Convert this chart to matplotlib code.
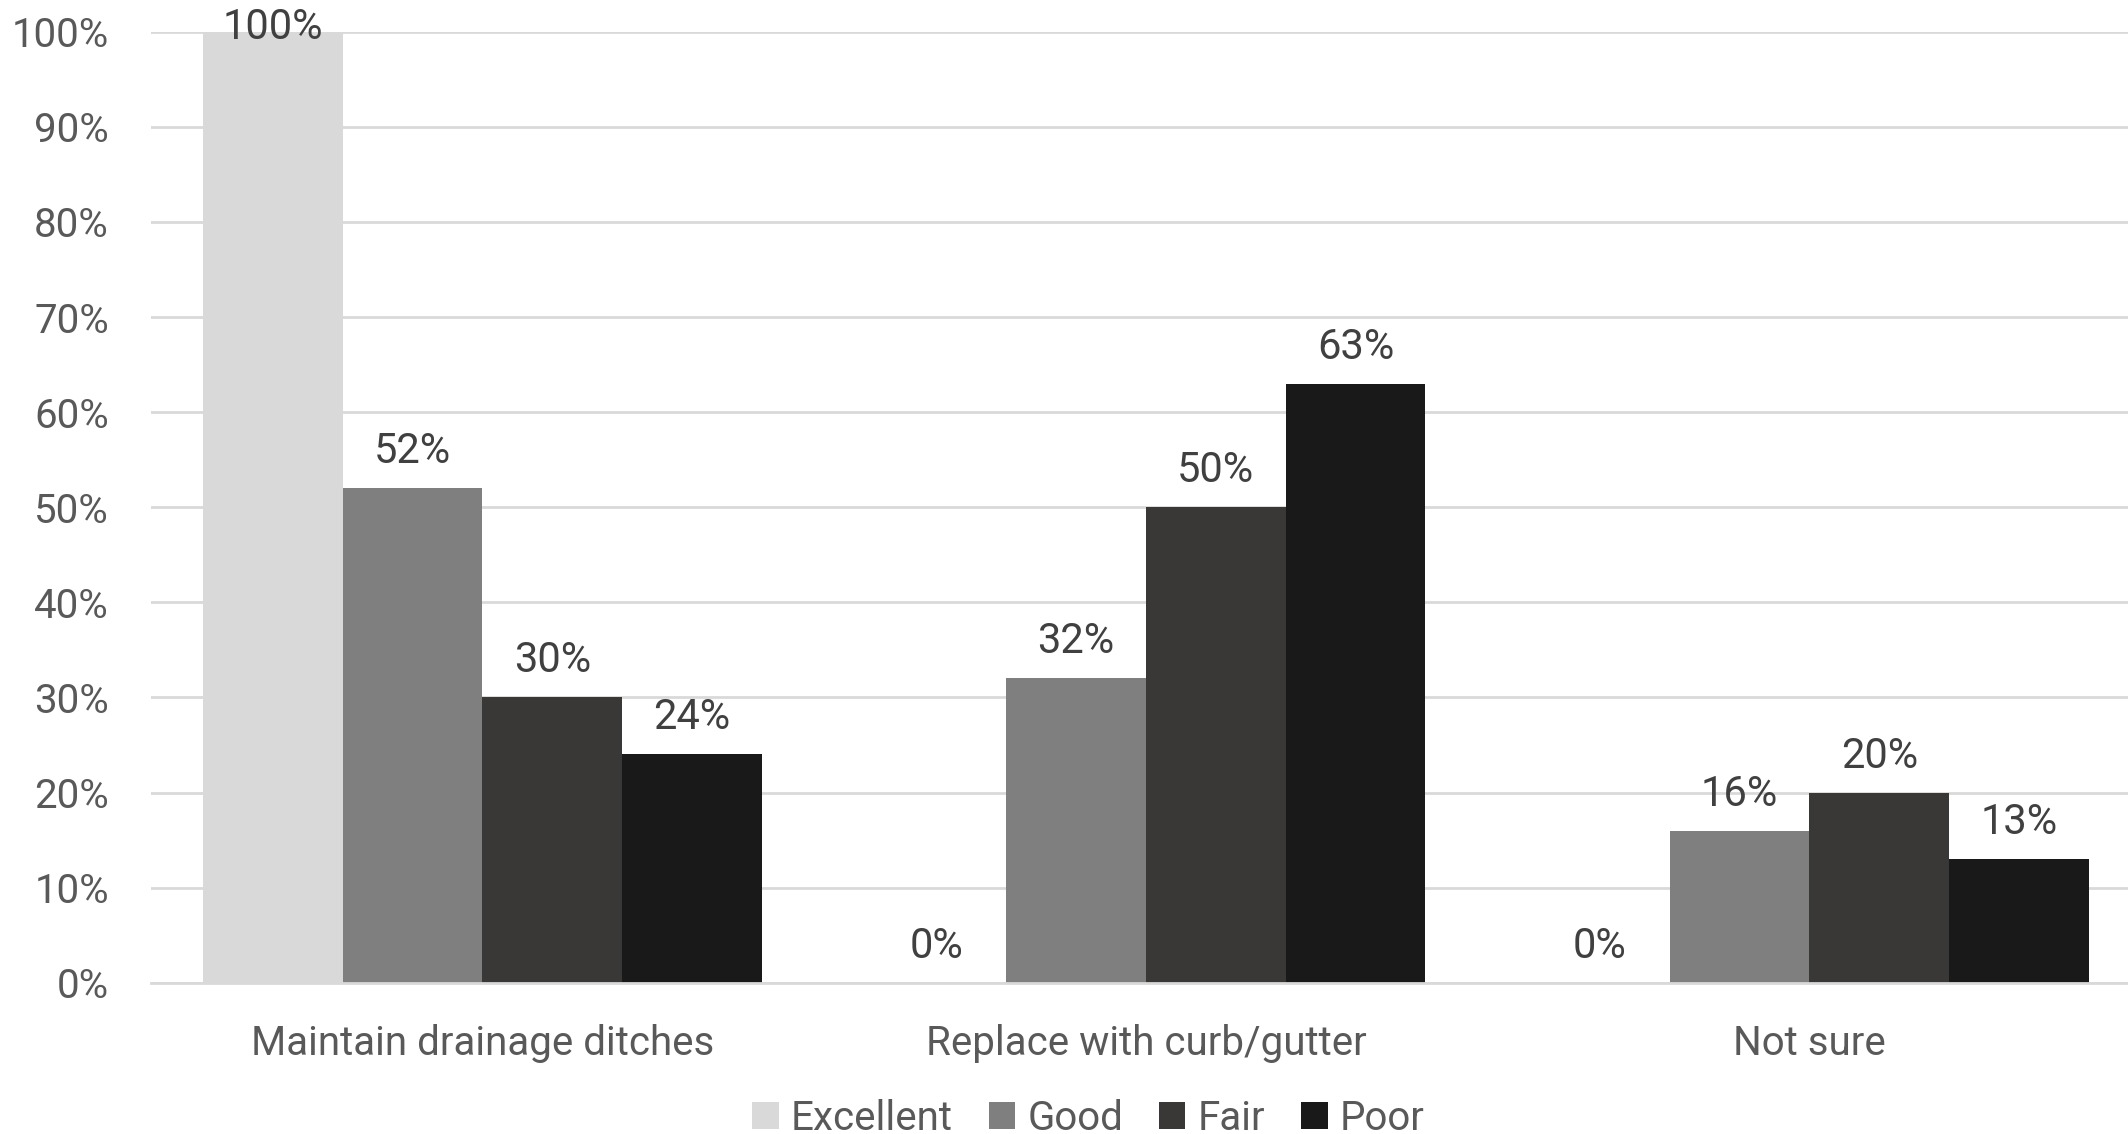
import matplotlib
matplotlib.use("Agg")
import matplotlib.pyplot as plt
from matplotlib import font_manager
import numpy as np

# Survey results by road condition rating
categories = ["Maintain drainage ditches", "Replace with curb/gutter", "Not sure"]
series_names = ["Excellent", "Good", "Fair", "Poor"]
excellent = [100, 0, 0]
good = [52, 32, 16]
fair = [30, 50, 20]
poor = [24, 63, 13]
y_ticks = [0, 10, 20, 30, 40, 50, 60, 70, 80, 90, 100]

colors = ["#d9d9d9", "#7f7f7f", "#3a3836", "#191919"]

available = {f.name for f in font_manager.fontManager.ttflist}
families = [f for f in ["Liberation Sans Narrow", "Roboto", "DejaVu Sans"] if f in available]
plt.rcParams["font.family"] = families

fig = plt.figure(figsize=(21.28, 11.34), dpi=100)
# plot area runs slightly past the right edge of the canvas
ax = fig.add_axes([0.0708, 0.1334, 0.9354, 0.8386])

values = [excellent, good, fair, poor]
n = len(series_names)
x = np.arange(len(categories))
group_frac = 0.8425
bw = group_frac / n

for i, (name, vals, c) in enumerate(zip(series_names, values, colors)):
    pos = x - group_frac / 2 + bw * (i + 0.5)
    ax.bar(pos, vals, width=bw, color=c, label=name, zorder=2, linewidth=0)
    for px, v in zip(pos, vals):
        # labels sit above the bar; a full-height bar gets its label pulled inside
        off = 18 if v < 95 else -5
        ax.annotate(f"{v}%", xy=(px, v), xytext=(0, off), textcoords="offset points",
                    ha="center", va="baseline",
                    fontsize=30, color="#404040", zorder=3, annotation_clip=False)

ax.set_xlim(-0.5, len(categories) - 0.5)
ax.set_ylim(0, 100)
ax.set_yticks(y_ticks)
ax.set_yticklabels([f"{t}%" for t in y_ticks])
ax.set_xticks(x)
ax.set_xticklabels(categories)
ax.tick_params(axis="y", length=0, labelsize=29, labelcolor="#595959", pad=30)
ax.tick_params(axis="x", length=0, labelsize=29, labelcolor="#595959", pad=30)

ax.grid(axis="y", color="#d9d9d9", linewidth=2, zorder=0)
ax.set_axisbelow(True)
for s in ["top", "right", "left"]:
    ax.spines[s].set_visible(False)
ax.spines["bottom"].set_color("#d9d9d9")
ax.spines["bottom"].set_linewidth(2)

leg = fig.legend(loc="lower center", bbox_to_anchor=(0.5115, -0.007), ncol=4, frameon=False,
                 fontsize=29, handlelength=0.65, handleheight=0.65, handletextpad=0.3,
                 columnspacing=0.9, borderpad=0.1, borderaxespad=0)
for t in leg.get_texts():
    t.set_color("#595959")

fig.savefig("out.png", dpi=100)
